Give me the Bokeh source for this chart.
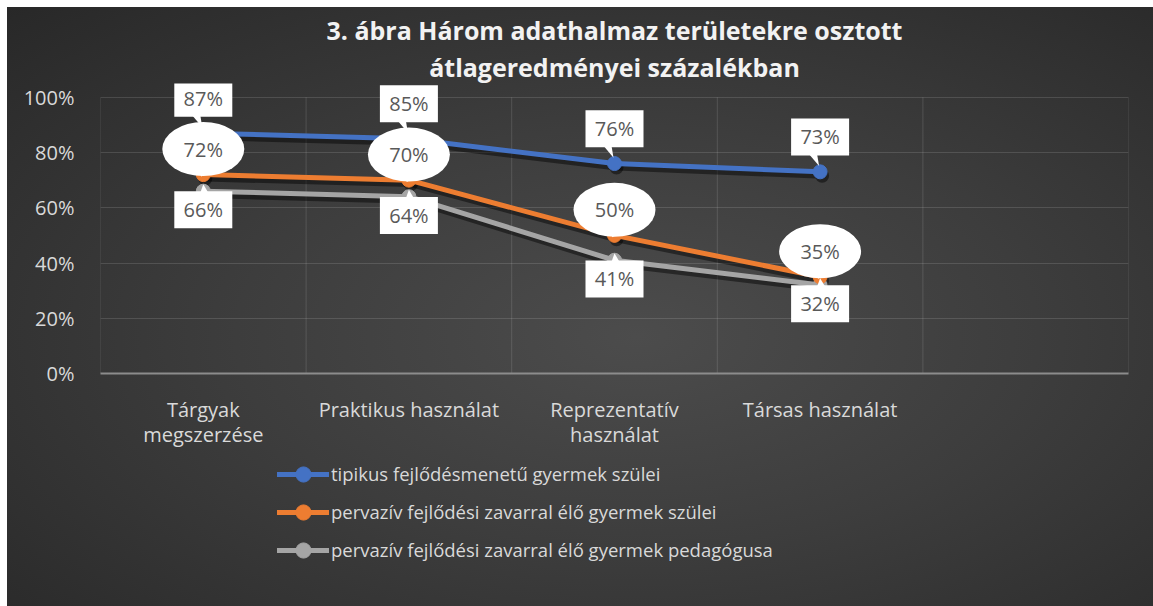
from bokeh.plotting import figure
from bokeh.layouts import column
from bokeh.models import (Range1d, FixedTicker, NumeralTickFormatter, Legend,
                          LegendItem, ColumnDataSource, Title)
from bokeh.embed import file_html
from bokeh.resources import INLINE
from bokeh.core.properties import value

# ---------------- data ----------------
categories = ["Tárgyak megszerzése", "Praktikus használat",
              "Reprezentatív használat", "Társas használat"]
tick_labels = ["Tárgyak\nmegszerzése", "Praktikus használat",
               "Reprezentatív\nhasználat", "Társas használat"]
series_names = ["tipikus fejlődésmenetű gyermek szülei",
                "pervazív fejlődési zavarral élő gyermek szülei",
                "pervazív fejlődési zavarral élő gyermek pedagógusa"]
tipikus = [0.87, 0.85, 0.76, 0.73]
pervaziv_szulei = [0.72, 0.70, 0.50, 0.35]
pervaziv_pedagogus = [0.66, 0.64, 0.41, 0.32]
y_ticks = [0.0, 0.2, 0.4, 0.6, 0.8, 1.0]
title_line1 = "3. ábra Három adathalmaz területekre osztott"
title_line2 = "átlageredményei százalékban"

# ---------------- layout constants ----------------
N_SLOTS = 5                     # four categories plus one empty slot
W, H = 1146, 599
H_CHART = 444                   # chart part; the legend strip takes the rest
PLOT_H = 281                    # pixels between 0% and 100%
EXTRA_TOP = 14                  # room above 100% for the top data labels
BL, BR, BT = 93, 25, 76
BB = H_CHART - BT - PLOT_H - EXTRA_TOP
FRAME_W = W - BL - BR
PX_X = N_SLOTS / FRAME_W
PX_Y = 1.0 / PLOT_H
Y_TOP = 1.0 + EXTRA_TOP * PX_Y

FONT = "Open Sans"
BLUE, ORANGE, GRAY = "#4472C4", "#ED7D31", "#A5A5A5"
LABEL_TXT = "#595959"
AXIS_TXT = "#D9D9D9"
TITLE_TXT = "#F2F2F2"

xs = [i + 0.5 for i in range(len(categories))]
bounds = list(range(N_SLOTS + 1))

p = figure(width=W, height=H_CHART, output_backend="svg", toolbar_location=None,
           x_range=Range1d(0, N_SLOTS), y_range=Range1d(0, Y_TOP),
           min_border_left=BL, min_border_right=BR,
           min_border_top=BT, min_border_bottom=BB)
p.border_fill_color = None
p.background_fill_color = None
p.outline_line_color = None

# title: two centred lines
p.title.text = title_line1
p.title.align = "center"
p.title.text_font = FONT
p.title.text_font_size = "25px"
p.title.text_font_style = "bold"
p.title.text_color = TITLE_TXT
p.title.standoff = 2
p.add_layout(Title(text=title_line2, align="center", text_font=FONT,
                   text_font_size="25px", text_font_style="bold",
                   text_color=TITLE_TXT, standoff=0), "above")

# axes
p.yaxis.ticker = FixedTicker(ticks=y_ticks)
p.yaxis.formatter = NumeralTickFormatter(format="0%")
p.yaxis.axis_line_color = None
p.yaxis.major_tick_line_color = None
p.yaxis.minor_tick_line_color = None
p.yaxis.major_label_text_font = FONT
p.yaxis.major_label_text_font_size = "20px"
p.yaxis.major_label_text_color = AXIS_TXT
p.yaxis.major_label_standoff = 20

p.xaxis.ticker = FixedTicker(ticks=xs)
p.xaxis.major_label_overrides = {x: t for x, t in zip(xs, tick_labels)}
p.xaxis.axis_line_color = "#8C8C8C"
p.xaxis.axis_line_width = 2
p.xaxis.major_tick_line_color = None
p.xaxis.minor_tick_line_color = None
p.xaxis.major_label_text_font = FONT
p.xaxis.major_label_text_font_size = "20px"
p.xaxis.major_label_text_color = AXIS_TXT
p.xaxis.major_label_text_line_height = 0.96
p.xaxis.major_label_standoff = 16

# grids: horizontal via the grid, vertical slot separators as segments (0%..100%)
p.ygrid.ticker = FixedTicker(ticks=y_ticks)
p.ygrid.grid_line_color = "#FFFFFF"
p.ygrid.grid_line_alpha = 0.13
p.xgrid.grid_line_color = None
p.segment(x0=bounds, y0=[0] * len(bounds), x1=bounds, y1=[1] * len(bounds),
          line_color="#FFFFFF", line_alpha=0.13, line_width=1)

# shadow ranges (shift a few pixels right / down)
p.extra_x_ranges = {"sh": Range1d(0 - 2 * PX_X, N_SLOTS - 2 * PX_X)}
p.extra_y_ranges = {"sh": Range1d(0 + 4 * PX_Y, Y_TOP + 4 * PX_Y)}

series = [(pervaziv_pedagogus, GRAY, series_names[2]),
          (pervaziv_szulei, ORANGE, series_names[1]),
          (tipikus, BLUE, series_names[0])]

for vals, col, name in series:
    p.line(xs, vals, line_color="black", line_alpha=0.45, line_width=6,
           x_range_name="sh", y_range_name="sh")
    p.scatter(xs, vals, size=14, fill_color="black", fill_alpha=0.45,
              line_color=None, x_range_name="sh", y_range_name="sh")

for vals, col, name in series:
    p.line(xs, vals, line_color=col, line_width=5, line_cap="round")
    p.scatter(xs, vals, size=14, fill_color=col, line_color=col)

# ---------------- data labels ----------------
def pct(vals):
    return ["%d%%" % round(v * 100) for v in vals]

BOX_W, BOX_H = 58, 37
ELL_W, ELL_H = 82, 54
OFF_BLUE, OFF_ORANGE, OFF_GRAY = 35.5, 26, -19

bx, by = [], []
for x, v in zip(xs, tipikus):
    top = v + (OFF_BLUE - BOX_H / 2 + 1) * PX_Y
    bx.append([x - 11 * PX_X, x - 3 * PX_X, x - 1 * PX_X])
    by.append([top, top, v + 6 * PX_Y])
gx, gy = [], []
for x, v in zip(xs, pervaziv_pedagogus):
    top = v + (OFF_GRAY + BOX_H / 2 - 1) * PX_Y
    gx.append([x - 3 * PX_X, x + 5 * PX_X, x + 0 * PX_X])
    gy.append([top, top, v + 7 * PX_Y])
ox, oy = [], []
for x, v in zip(xs, pervaziv_szulei):
    bot = v + (OFF_ORANGE - ELL_H / 2 + 3) * PX_Y
    ox.append([x - 4 * PX_X, x + 4 * PX_X, x - 2 * PX_X])
    oy.append([bot, bot, v - 2 * PX_Y])
p.patches(bx, by, fill_color="white", line_color=None)
p.patches(gx, gy, fill_color="white", line_color=None)
p.patches(ox, oy, fill_color="white", line_color=None)

blue_y = [v + OFF_BLUE * PX_Y for v in tipikus]
orange_y = [v + OFF_ORANGE * PX_Y for v in pervaziv_szulei]
gray_y = [v + OFF_GRAY * PX_Y for v in pervaziv_pedagogus]

p.rect(xs, blue_y, width=BOX_W, height=BOX_H, width_units="screen",
       height_units="screen", fill_color="white", line_color=None)
p.rect(xs, gray_y, width=BOX_W, height=BOX_H, width_units="screen",
       height_units="screen", fill_color="white", line_color=None)
p.ellipse(xs, orange_y, width=ELL_W, height=ELL_H, width_units="screen",
          height_units="screen", fill_color="white", line_color=None)

for ys, vals in ((blue_y, tipikus), (orange_y, pervaziv_szulei),
                 (gray_y, pervaziv_pedagogus)):
    src = ColumnDataSource(dict(x=xs, y=ys, t=pct(vals)))
    p.text(x="x", y="y", text="t", source=src, text_align="center",
           text_baseline="middle", text_font=value(FONT),
           text_font_size="20px", text_color=LABEL_TXT)

# ---------------- legend strip (second figure, same series styles) ----------------
H_LEG = H - H_CHART
pl = figure(width=W, height=H_LEG, output_backend="svg", toolbar_location=None,
            x_range=Range1d(100, 101), y_range=Range1d(100, 101),
            x_axis_type=None, y_axis_type=None, min_border=0)
pl.border_fill_color = None
pl.background_fill_color = None
pl.outline_line_color = None
pl.xgrid.grid_line_color = None
pl.ygrid.grid_line_color = None

leg_r = {}
for vals, col, name in series:
    lr = pl.line(xs, vals, line_color=col, line_width=5, line_cap="round")
    sr = pl.scatter(xs, vals, size=14, fill_color=col, line_color=col)
    leg_r[name] = [lr, sr]

ROW_H = 38.5
items = [LegendItem(label=n, renderers=leg_r[n]) for n in series_names]
legend = Legend(items=items, location=(177, H_LEG - 2 - 3 * ROW_H),
                orientation="vertical",
                label_text_font=FONT, label_text_font_size="18.5px",
                label_text_color=AXIS_TXT, glyph_width=52, glyph_height=38,
                label_height=38, spacing=0, padding=0, margin=0,
                label_standoff=2, border_line_color=None,
                background_fill_alpha=0)
pl.add_layout(legend, "center")

layout = column(p, pl, spacing=0)
layout.margin = (7, 0, 0, 7)
layout.styles = {"background-image":
                 "radial-gradient(ellipse at 55% 55%, #4c4c4c 0%, #3d3d3d 45%, #282828 100%)"}

open("out.html", "w").write(file_html(layout, INLINE))
